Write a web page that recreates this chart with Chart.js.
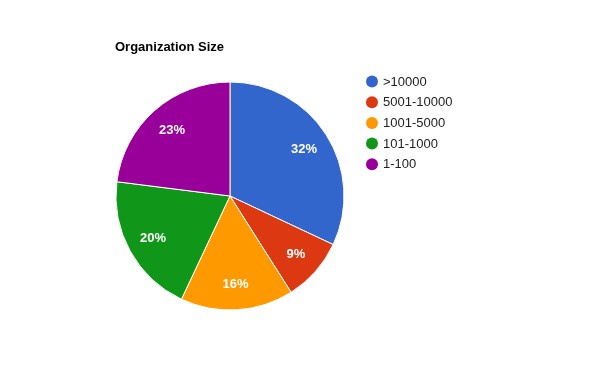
<!DOCTYPE html>
<html>
<head>
<meta charset="utf-8">
<script src="https://cdn.jsdelivr.net/npm/chart.js@4/dist/chart.umd.min.js"></script>
<style>
  html, body { margin: 0; padding: 0; background: #ffffff; }
  #wrap { position: relative; width: 600px; height: 390px; }
</style>
</head>
<body>
<div id="wrap"><canvas id="c" width="600" height="390"></canvas></div>
<script>
const chartTitle = "Organization Size";
const categories = [">10000", "5001-10000", "1001-5000", "101-1000", "1-100"];
const values = [32, 9, 16, 20, 23];
const colors = ["#3366cc", "#dc3912", "#ff9900", "#109618", "#990099"];

const FONT = '"Liberation Sans", Arial, sans-serif';

const overlayPlugin = {
  id: 'overlay',
  afterDatasetsDraw(chart) {
    const ctx = chart.ctx;
    const meta = chart.getDatasetMeta(0);
    const total = values.reduce((a, b) => a + b, 0);
    ctx.save();
    // slice labels
    ctx.fillStyle = '#ffffff';
    ctx.font = 'bold 13px ' + FONT;
    ctx.textAlign = 'center';
    ctx.textBaseline = 'middle';
    meta.data.forEach((arc, i) => {
      const p = arc.getProps(['x', 'y', 'startAngle', 'endAngle', 'outerRadius'], true);
      const mid = (p.startAngle + p.endAngle) / 2;
      const r = p.outerRadius * 0.77;
      const pct = Math.round(values[i] / total * 100) + '%';
      ctx.fillText(pct, p.x + Math.cos(mid) * r, p.y + Math.sin(mid) * r + 0.5);
    });
    // title
    ctx.fillStyle = '#000000';
    ctx.font = 'bold 13px ' + FONT;
    ctx.textAlign = 'left';
    ctx.textBaseline = 'alphabetic';
    ctx.fillText(chartTitle, 115, 51);
    // legend
    ctx.font = '13px ' + FONT;
    ctx.textBaseline = 'middle';
    categories.forEach((name, i) => {
      const cy = 81.5 + i * 20.7;
      ctx.beginPath();
      ctx.arc(372, cy, 6, 0, Math.PI * 2);
      ctx.fillStyle = colors[i];
      ctx.fill();
      ctx.fillStyle = '#222222';
      ctx.fillText(name, 383, cy + 0.5);
    });
    ctx.restore();
  }
};

new Chart(document.getElementById('c'), {
  type: 'pie',
  data: {
    labels: categories,
    datasets: [{
      data: values,
      backgroundColor: colors,
      borderColor: '#ffffff',
      borderWidth: 1,
      radius: 114
    }]
  },
  options: {
    responsive: false,
    animation: false,
    events: [],
    layout: { padding: { left: 116, right: 256, top: 82, bottom: 80 } },
    plugins: {
      legend: { display: false },
      title: { display: false },
      tooltip: { enabled: false }
    }
  },
  plugins: [overlayPlugin]
});
</script>
</body>
</html>
